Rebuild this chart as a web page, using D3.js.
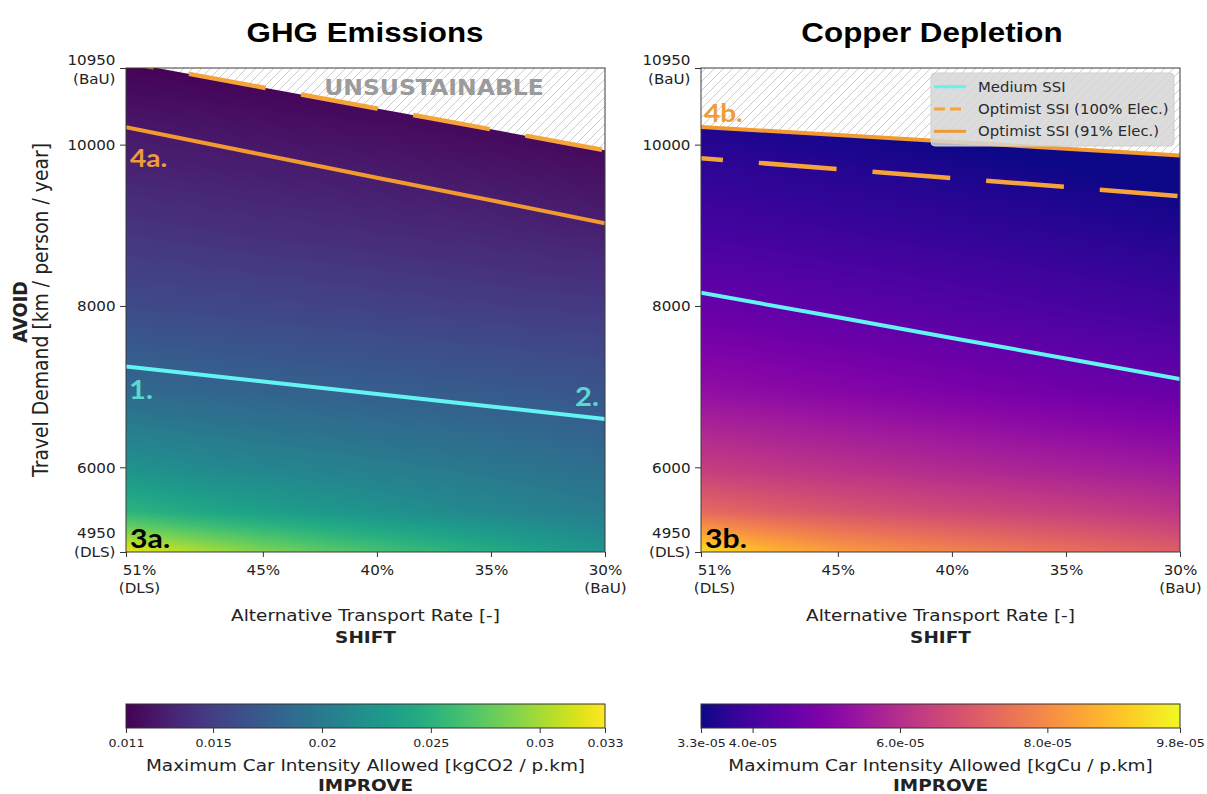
<!DOCTYPE html>
<html>
<head>
<meta charset="utf-8">
<script src="https://cdn.jsdelivr.net/npm/d3@7/dist/d3.min.js"></script>
<style>
body { margin: 0; background: #fff; }
svg { display: block; }
text { font-family: "DejaVu Sans", sans-serif; fill: #222; }
</style>
</head>
<body>
<svg id="chart" width="1207" height="794"></svg>
<script>
// grille du champ de couleur (lignes = demande, colonnes = taux de transport alternatif)
const rates = [51, 48, 45, 42, 39, 36, 33, 30];
const demands = [10950, 9950, 8950, 7950, 6950, 5950, 5450, 4950];

// kgCO2 / p.km
const ghgGrid = [
  [0.01114, 0.01105, 0.01091, 0.01078, 0.01068, 0.01055, 0.01041, 0.01032],
  [0.01266, 0.01251, 0.01231, 0.01216, 0.01201, 0.01181, 0.01166, 0.01146],
  [0.01430, 0.01408, 0.01385, 0.01369, 0.01346, 0.01330, 0.01307, 0.01285],
  [0.01597, 0.01579, 0.01560, 0.01541, 0.01522, 0.01503, 0.01484, 0.01472],
  [0.01842, 0.01813, 0.01784, 0.01763, 0.01741, 0.01719, 0.01698, 0.01669],
  [0.02235, 0.02168, 0.02118, 0.02076, 0.02034, 0.01992, 0.01950, 0.01899],
  [0.02530, 0.02420, 0.02340, 0.02270, 0.02200, 0.02135, 0.02075, 0.02020],
  [0.03232, 0.03050, 0.02880, 0.02740, 0.02620, 0.02500, 0.02376, 0.02242]
];

// kgCu / p.km
const cuGrid = [
  [3.215e-5, 3.153e-5, 3.092e-5, 3.031e-5, 2.969e-5, 2.908e-5, 2.847e-5, 2.785e-5],
  [3.578e-5, 3.508e-5, 3.440e-5, 3.371e-5, 3.303e-5, 3.233e-5, 3.165e-5, 3.095e-5],
  [4.000e-5, 3.923e-5, 3.847e-5, 3.770e-5, 3.694e-5, 3.617e-5, 3.541e-5, 3.464e-5],
  [4.553e-5, 4.465e-5, 4.377e-5, 4.289e-5, 4.201e-5, 4.113e-5, 4.025e-5, 3.937e-5],
  [5.266e-5, 5.161e-5, 5.056e-5, 4.951e-5, 4.847e-5, 4.742e-5, 4.637e-5, 4.532e-5],
  [6.387e-5, 6.252e-5, 6.118e-5, 6.000e-5, 5.882e-5, 5.765e-5, 5.664e-5, 5.546e-5],
  [7.330e-5, 7.080e-5, 6.880e-5, 6.720e-5, 6.580e-5, 6.460e-5, 6.330e-5, 6.160e-5],
  [9.455e-5, 8.788e-5, 8.323e-5, 8.020e-5, 7.778e-5, 7.535e-5, 7.313e-5, 7.071e-5]
];

// courbes SSI (demande en km / personne / an) aux taux ci-dessous
const lineRates = [51, 45, 40, 35, 30];
const ghgMedium = [7250, 7064, 6910, 6755, 6600];
const ghgOpt100 = [11020, 10709, 10449, 10190, 9930];
const ghgOpt91 = [10215, 9875, 9590, 9310, 9025];
const cuMedium = [8165, 7859, 7604, 7349, 7094];
const cuOpt100 = [9830, 9697, 9586, 9475, 9362];
const cuOpt91 = [10220, 10119, 10035, 9950, 9865];

// axes
const xTicks = [51, 45, 40, 35, 30];
const xTickLabels = ["51%\n(DLS)", "45%", "40%", "35%", "30%\n(BaU)"];
const yTicks = [10950, 10000, 8000, 6000, 4950];
const yTickLabels = ["10950\n(BaU)", "10000", "8000", "6000", "4950\n(DLS)"];

const ghgTicks = [0.011, 0.015, 0.02, 0.025, 0.03, 0.033];
const ghgTickLabels = ["0.011", "0.015", "0.02", "0.025", "0.03", "0.033"];
const cuTicks = [3.3e-5, 4.0e-5, 6.0e-5, 8.0e-5, 9.8e-5];
const cuTickLabels = ["3.3e-05", "4.0e-05", "6.0e-05", "8.0e-05", "9.8e-05"];

const legendLabels = ["Medium SSI", "Optimist SSI (100% Elec.)", "Optimist SSI (91% Elec.)"];


// l'image d'origine est un peu étirée en largeur
const SX = 1.12;
const CYAN = "#62f3f2", ORANGE = "#f29a2f", ORANGE_D = "#f5a43a";
const plotTop = 68, plotBottom = 552, plotW = 479;

const svg = d3.select("#chart");
const defs = svg.append("defs");

const hatch = defs.append("pattern")
  .attr("id", "hatch")
  .attr("patternUnits", "userSpaceOnUse")
  .attr("width", 9).attr("height", 9);
hatch.append("rect").attr("width", 9).attr("height", 9).attr("fill", "#fff");
hatch.append("path")
  .attr("d", "M-1,1 l2,-2 M0,9 l9,-9 M8,10 l2,-2")
  .attr("stroke", "#c6c6c6").attr("stroke-width", 0.9);

function label(g, x, y, str, o) {
  const t = g.append("text")
    .attr("transform", `translate(${x},${y}) scale(${SX},1)` + (o.rotate ? ` rotate(${o.rotate})` : ""))
    .attr("text-anchor", o.anchor || "middle")
    .style("font-size", o.size + "px")
    .text(str);
  if (o.bold) t.style("font-weight", "bold");
  if (o.family) t.style("font-family", o.family);
  if (o.color) t.style("fill", o.color);
  return t;
}

function styleTicks(axisG) {
  axisG.select(".domain").remove();
  axisG.selectAll(".tick line").attr("stroke", "#333");
}

function fieldImage(grid, x, y, color) {
  const x0 = x(51), y0 = y(10950);
  const w = Math.round(x(30) - x0), h = Math.round(y(4950) - y0);
  const cv = document.createElement("canvas");
  cv.width = w; cv.height = h;
  const ctx = cv.getContext("2d");
  const img = ctx.createImageData(w, h);
  const lut = d3.range(256).map(k => d3.rgb(color.interpolator()(k / 255)));
  const [d0, d1] = color.domain();
  const nI = rates.length - 1, nJ = demands.length - 1;
  const iOf = d3.scaleLinear().domain(rates).range(d3.range(rates.length)).clamp(true);
  const jOf = d3.scaleLinear().domain(demands).range(d3.range(demands.length)).clamp(true);
  for (let py = 0; py < h; py++) {
    const fj = jOf(y.invert(y0 + py + 0.5));
    const j = Math.min(nJ - 1, Math.floor(fj)), tj = fj - j;
    for (let px = 0; px < w; px++) {
      const fi = iOf(x.invert(x0 + px + 0.5));
      const i = Math.min(nI - 1, Math.floor(fi)), ti = fi - i;
      const v = (grid[j][i] * (1 - ti) + grid[j][i + 1] * ti) * (1 - tj)
              + (grid[j + 1][i] * (1 - ti) + grid[j + 1][i + 1] * ti) * tj;
      let t = (v - d0) / (d1 - d0);
      t = Math.max(0, Math.min(1, t));
      const c = lut[Math.round(t * 255)];
      const o = (py * w + px) * 4;
      img.data[o] = c.r; img.data[o + 1] = c.g; img.data[o + 2] = c.b; img.data[o + 3] = 255;
    }
  }
  ctx.putImageData(img, 0, 0);
  return {href: cv.toDataURL(), x: x0, y: y0, w, h};
}

function drawPanel(p) {
  const x = d3.scaleLinear().domain([51, 30]).range([p.left, p.left + plotW]);
  const y = d3.scaleLinear().domain([4950, 10950]).range([plotBottom, plotTop]);
  const color = d3.scaleSequential(p.interp).domain(p.domain).clamp(true);
  const g = svg.append("g");

  defs.append("clipPath").attr("id", p.id + "-area")
    .append("rect")
    .attr("x", x(51)).attr("y", y(10950))
    .attr("width", x(30) - x(51)).attr("height", y(4950) - y(10950));

  // zone non soutenable (hachurée) en fond
  g.append("rect")
    .attr("x", x(51)).attr("y", y(10950))
    .attr("width", x(30) - x(51)).attr("height", y(4950) - y(10950))
    .attr("fill", "url(#hatch)");

  const below = lineRates.map((r, i) => [x(r), y(p.boundary[i])])
    .concat([[x(30), y(4950)], [x(51), y(4950)]]);
  defs.append("clipPath").attr("id", p.id + "-below")
    .append("polygon")
    .attr("points", below.map(d => d.join(",")).join(" "));

  const f = fieldImage(p.grid, x, y, color);
  const area = g.append("g").attr("clip-path", `url(#${p.id}-area)`);
  area.append("image")
    .attr("clip-path", `url(#${p.id}-below)`)
    .attr("href", f.href)
    .attr("preserveAspectRatio", "none")
    .attr("x", f.x).attr("y", f.y)
    .attr("width", f.w).attr("height", f.h);

  const line = d3.line().x((d, i) => x(lineRates[i])).y(d => y(d));

  area.append("path").datum(p.medium)
    .attr("d", line).attr("fill", "none")
    .attr("stroke", CYAN).attr("stroke-width", 4);
  area.append("path").datum(p.opt91)
    .attr("d", line).attr("fill", "none")
    .attr("stroke", ORANGE).attr("stroke-width", 4);
  area.append("path").datum(p.opt100)
    .attr("d", line).attr("fill", "none")
    .attr("stroke", ORANGE_D).attr("stroke-width", 4.5)
    .attr("stroke-dasharray", "78,36")
    .attr("stroke-dashoffset", p.dashOffset);

  g.append("rect")
    .attr("x", x(51)).attr("y", y(10950))
    .attr("width", x(30) - x(51)).attr("height", y(4950) - y(10950))
    .attr("fill", "none").attr("stroke", "#3a3a3a").attr("stroke-width", 1);

  // axe x
  const ax = g.append("g").attr("transform", `translate(0,${plotBottom})`)
    .call(d3.axisBottom(x).tickValues(xTicks).tickSize(5).tickFormat(""));
  styleTicks(ax);
  ax.selectAll(".tick").each(function(d, i) {
    const lines = xTickLabels[i].split("\n");
    const dx = i === 0 ? 13 : 0;
    lines.forEach((ln, k) => label(d3.select(this), dx, 23 + k * 18, ln, {size: 13.5}));
  });

  // axe y
  const ay = g.append("g").attr("transform", `translate(${x(51)},0)`)
    .call(d3.axisLeft(y).tickValues(yTicks).tickSize(6).tickFormat(""));
  styleTicks(ay);
  ay.selectAll(".tick").each(function(d, i) {
    const lines = yTickLabels[i].split("\n");
    let first = 0;
    if (lines.length > 1) first = d === 4950 ? -20 : -9;
    lines.forEach((ln, k) => label(d3.select(this), -10.5, first + k * 19 + 5, ln, {size: 13.5, anchor: "end"}));
  });

  const cx = (x(51) + x(30)) / 2;
  label(g, cx, 621, "Alternative Transport Rate [-]", {size: 16.5});
  label(g, cx, 643, "SHIFT", {size: 16.5, bold: true});
  label(g, p.titleX, 42, p.title, {size: 28, bold: true, family: "'Liberation Sans', Arial, sans-serif", color: "#000"});

  // barre de couleur
  const cbY = 704, cbH = 24;
  const cscale = d3.scaleLinear().domain(p.domain).range([x(51), x(30)]);
  const grad = defs.append("linearGradient").attr("id", p.id + "-grad");
  d3.range(0, 1.0001, 0.05).forEach(t => {
    grad.append("stop").attr("offset", t).attr("stop-color", p.interp(t));
  });
  g.append("rect")
    .attr("x", x(51)).attr("y", cbY).attr("width", x(30) - x(51)).attr("height", cbH)
    .attr("fill", `url(#${p.id}-grad)`).attr("stroke", "#333").attr("stroke-width", 1);
  const ac = g.append("g").attr("transform", `translate(0,${cbY + cbH})`)
    .call(d3.axisBottom(cscale).tickValues(p.cTicks).tickSize(5).tickFormat(""));
  styleTicks(ac);
  ac.selectAll(".tick").each(function(d, i) {
    label(d3.select(this), 0, 19, p.cLabels[i], {size: 11.3});
  });
  label(g, cx, 771, p.cTitle, {size: 16.5});
  label(g, cx, 791, "IMPROVE", {size: 16.5, bold: true});

  return {g, x, y};
}

// Panneau GHG
const left = drawPanel({
  id: "ghg", left: 126, title: "GHG Emissions", titleX: 365,
  grid: ghgGrid, interp: d3.interpolateViridis, domain: [0.011, 0.033],
  medium: ghgMedium, opt100: ghgOpt100, opt91: ghgOpt91, boundary: ghgOpt100,
  dashOffset: 50, cTicks: ghgTicks, cLabels: ghgTickLabels,
  cTitle: "Maximum Car Intensity Allowed [kgCO2 / p.km]"
});

// Panneau cuivre
const right = drawPanel({
  id: "cu", left: 701, title: "Copper Depletion", titleX: 932,
  grid: cuGrid, interp: d3.interpolatePlasma, domain: [3.3e-5, 9.8e-5],
  medium: cuMedium, opt100: cuOpt100, opt91: cuOpt91, boundary: cuOpt91,
  dashOffset: 56, cTicks: cuTicks, cLabels: cuTickLabels,
  cTitle: "Maximum Car Intensity Allowed [kgCu / p.km]"
});

// libellé axe y (panneau gauche seulement)
label(left.g, 27, 312, "AVOID", {size: 17.5, bold: true, rotate: -90});
label(left.g, 48, 310, "Travel Demand [km / person / year]", {size: 18.8, rotate: -90});

label(left.g, 434, 95, "UNSUSTAINABLE", {size: 21, bold: true, color: "#9b9b9b"});

// annotations
const annot = "Lato, 'Open Sans', sans-serif";
label(left.g, 130, 167, "4a.", {size: 25, bold: true, anchor: "start", family: annot, color: "#f09c38"});
label(left.g, 129, 399, "1.", {size: 26, bold: true, anchor: "start", family: annot, color: "#5dd8cd"});
label(left.g, 575, 406, "2.", {size: 26, bold: true, anchor: "start", family: annot, color: "#5dd8cd"});
label(left.g, 130, 548, "3a.", {size: 27, bold: true, anchor: "start", family: annot, color: "#000"});
label(right.g, 704, 122, "4b.", {size: 25, bold: true, anchor: "start", family: annot, color: "#f09c38"});
label(right.g, 705, 548, "3b.", {size: 27, bold: true, anchor: "start", family: annot, color: "#000"});

// légende
const lg = right.g.append("g");
lg.append("rect")
  .attr("x", 931).attr("y", 73).attr("width", 243).attr("height", 73).attr("rx", 4)
  .attr("fill", "#d6d6d6").attr("fill-opacity", 0.85)
  .attr("stroke", "#cfcfcf");
const legStyles = [
  {color: CYAN, dash: null},
  {color: ORANGE_D, dash: "11,5"},
  {color: ORANGE, dash: null}
];
legendLabels.forEach((txt, i) => {
  const ly = 86.7 + i * 22.3;
  lg.append("line")
    .attr("x1", 934).attr("x2", 966).attr("y1", ly).attr("y2", ly)
    .attr("stroke", legStyles[i].color).attr("stroke-width", 3)
    .attr("stroke-dasharray", legStyles[i].dash);
  label(lg, 978, ly + 5, txt, {size: 13.3, anchor: "start", color: "#2a2a2a"});
});
</script>
</body>
</html>
